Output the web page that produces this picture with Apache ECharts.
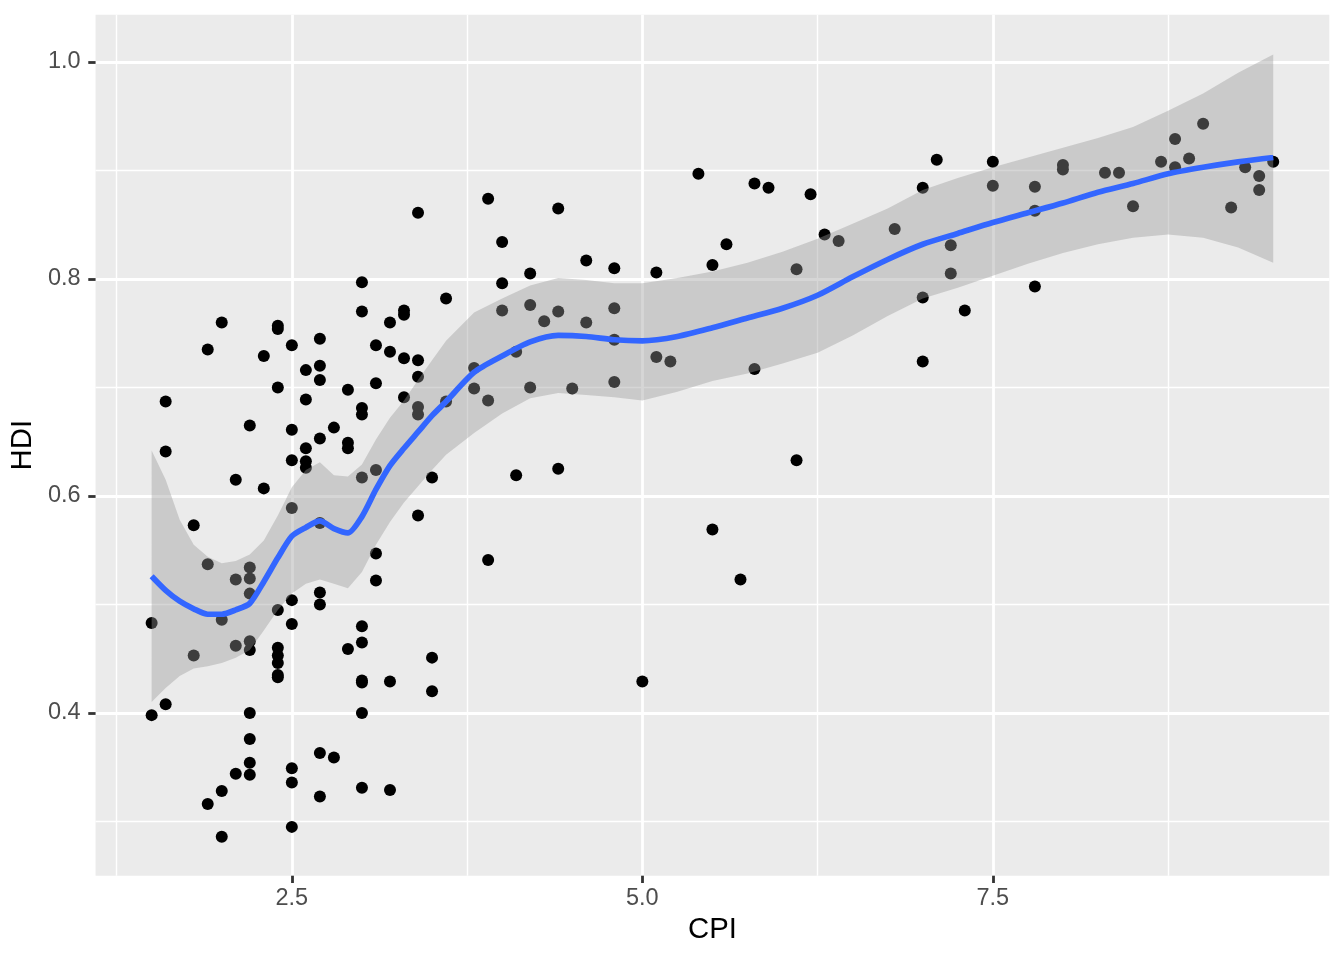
<!DOCTYPE html>
<html>
<head>
<meta charset="utf-8">
<script src="https://cdn.jsdelivr.net/npm/echarts@6/dist/echarts.min.js"></script>
<style>html,body{margin:0;padding:0;background:#fff}#c{width:1344px;height:960px}</style>
</head>
<body>
<div id="c"></div>
<script>
// ---- data: CPI levels and the HDI values of the countries at each level ----
const cpiLevels = [1.5,1.6,1.8,1.9,2.0,2.1,2.2,2.3,2.4,2.5,2.6,2.7,2.8,2.9,3.0,3.1,3.2,3.3,3.4,3.5,3.6,3.8,3.9,4.0,4.1,4.2,4.3,4.4,4.5,4.6,4.8,5.0,5.1,5.2,5.4,5.5,5.6,5.7,5.8,5.9,6.1,6.2,6.3,6.4,6.8,7.0,7.1,7.2,7.3,7.5,7.8,8.0,8.3,8.4,8.5,8.7,8.8,8.9,9.0,9.2,9.3,9.4,9.5];
const hdiByLevel = [
  [0.483,0.398],
  [0.687,0.641,0.408],
  [0.573,0.453],
  [0.735,0.537,0.316],
  [0.760,0.486,0.328,0.286],
  [0.615,0.523,0.462,0.344],
  [0.665,0.534,0.524,0.510,0.466,0.458,0.400,0.376,0.354,0.343],
  [0.729,0.607],
  [0.757,0.754,0.700,0.495,0.460,0.453,0.446,0.435,0.433],
  [0.739,0.661,0.633,0.589,0.504,0.482,0.349,0.336,0.295],
  [0.716,0.689,0.644,0.632,0.626],
  [0.745,0.720,0.707,0.653,0.575,0.511,0.500,0.363,0.323],
  [0.663,0.359],
  [0.698,0.649,0.644,0.459],
  [0.797,0.770,0.681,0.675,0.617,0.480,0.465,0.430,0.428,0.400,0.331],
  [0.739,0.704,0.624,0.547,0.522],
  [0.760,0.733,0.429,0.329],
  [0.771,0.767,0.727,0.691],
  [0.861,0.725,0.710,0.682,0.675,0.582],
  [0.617,0.451,0.420],
  [0.782,0.687],
  [0.718,0.699],
  [0.874,0.688,0.541],
  [0.834,0.796,0.771],
  [0.733,0.619],
  [0.805,0.776,0.700],
  [0.761],
  [0.865,0.770,0.625],
  [0.699],
  [0.817,0.760],
  [0.810,0.773,0.744,0.705],
  [0.429],
  [0.806,0.728],
  [0.724],
  [0.897],
  [0.813,0.569],
  [0.832],
  [0.523],
  [0.888,0.717],
  [0.884],
  [0.809,0.633],
  [0.878],
  [0.841],
  [0.835],
  [0.846],
  [0.884,0.783,0.724],
  [0.910],
  [0.831,0.805],
  [0.771],
  [0.908,0.886],
  [0.885,0.863,0.793],
  [0.905,0.901],
  [0.898],
  [0.898],
  [0.867],
  [0.908],
  [0.929,0.903],
  [0.911],
  [0.943],
  [0.866],
  [0.903],
  [0.895,0.882],
  [0.908]
];

// ---- loess smooth and its confidence band ----
const smoothX   = [1.5,1.6,1.7,1.8,1.9,2.0,2.1,2.2,2.3,2.4,2.5,2.6,2.7,2.8,2.9,3.0,3.1,3.2,3.3,3.4,3.5,3.6,3.8,4.0,4.2,4.4,4.6,4.8,5.0,5.25,5.5,5.75,6.0,6.25,6.5,6.75,7.0,7.25,7.5,7.75,8.0,8.25,8.5,8.75,9.0,9.25,9.5];
const smoothFit = [0.526,0.513,0.503,0.496,0.491,0.491,0.495,0.501,0.521,0.543,0.563,0.571,0.577,0.570,0.566,0.581,0.606,0.628,0.644,0.659,0.674,0.687,0.714,0.729,0.742,0.748,0.747,0.744,0.743,0.747,0.755,0.764,0.773,0.785,0.802,0.818,0.832,0.842,0.852,0.861,0.870,0.880,0.888,0.897,0.903,0.908,0.912];
const bandHigh  = [0.642,0.615,0.578,0.555,0.544,0.538,0.540,0.546,0.559,0.582,0.608,0.624,0.631,0.619,0.618,0.629,0.652,0.672,0.688,0.707,0.725,0.743,0.769,0.782,0.794,0.801,0.799,0.796,0.796,0.801,0.807,0.815,0.825,0.837,0.851,0.865,0.882,0.893,0.903,0.912,0.921,0.930,0.940,0.955,0.971,0.990,1.007];
const bandLow   = [0.410,0.423,0.434,0.441,0.443,0.446,0.451,0.458,0.476,0.495,0.510,0.519,0.523,0.519,0.515,0.530,0.555,0.576,0.594,0.609,0.624,0.638,0.658,0.676,0.690,0.695,0.693,0.691,0.688,0.696,0.706,0.713,0.722,0.732,0.748,0.766,0.782,0.792,0.803,0.814,0.824,0.832,0.838,0.841,0.838,0.829,0.815];

// ---- axis breaks ----
const xMajor = [2.5, 5.0, 7.5];
const xMinor = [1.25, 3.75, 6.25, 8.75];
const yMajor = [0.4, 0.6, 0.8, 1.0];
const yMinor = [0.3, 0.5, 0.7, 0.9];
const xRange = [1.1, 9.9];
const yRange = [0.25, 1.0436];

const points = [];
cpiLevels.forEach((c, i) => hdiByLevel[i].forEach(h => points.push([c, h])));

const FONT = 'Liberation Sans, Arial, Helvetica, sans-serif';
const chart = echarts.init(document.getElementById('c'), null, {renderer: 'canvas'});

const tickStyle = {show: true, length: 7.3, lineStyle: {color: '#333333', width: 2.8}};

chart.setOption({
  animation: false,
  textStyle: {fontFamily: FONT},
  grid: {left: 95, right: 14.7, top: 14.7, bottom: 84.3, show: true, backgroundColor: '#EBEBEB', borderWidth: 0},
  xAxis: [
    {
      type: 'value', min: xRange[0], max: xRange[1],
      name: 'CPI', nameLocation: 'middle', nameGap: 39,
      nameTextStyle: {fontSize: 29.3, color: '#000000', fontFamily: FONT},
      axisLine: {show: false},
      axisTick: Object.assign({customValues: xMajor}, tickStyle),
      axisLabel: {customValues: xMajor, fontSize: 23.5, color: '#4D4D4D', margin: 11, fontFamily: FONT,
                  formatter: v => Number(v).toFixed(1)},
      splitLine: {show: true, lineStyle: {color: '#FFFFFF', width: 2.8}},
      z: 1
    },
    {
      type: 'value', min: xRange[0], max: xRange[1], position: 'top',
      axisLine: {show: false}, axisLabel: {show: false},
      axisTick: {show: false, customValues: xMinor},
      splitLine: {show: true, lineStyle: {color: '#FFFFFF', width: 1.4}},
      z: 0
    }
  ],
  yAxis: [
    {
      type: 'value', min: yRange[0], max: yRange[1],
      name: 'HDI', nameLocation: 'middle', nameGap: 55,
      nameTextStyle: {fontSize: 29.3, color: '#000000', fontFamily: FONT},
      axisLine: {show: false},
      axisTick: Object.assign({customValues: yMajor}, tickStyle),
      axisLabel: {customValues: yMajor, fontSize: 23.5, color: '#4D4D4D', margin: 15, fontFamily: FONT,
                  formatter: v => Number(v).toFixed(1)},
      splitLine: {show: true, lineStyle: {color: '#FFFFFF', width: 2.8}},
      z: 1
    },
    {
      type: 'value', min: yRange[0], max: yRange[1], position: 'right',
      axisLine: {show: false}, axisLabel: {show: false},
      axisTick: {show: false, customValues: yMinor},
      splitLine: {show: true, lineStyle: {color: '#FFFFFF', width: 1.4}},
      z: 0
    }
  ],
  series: [
    {
      type: 'scatter', xAxisIndex: 0, yAxisIndex: 0, z: 2,
      symbol: 'circle', symbolSize: 12,
      itemStyle: {color: '#000000', opacity: 1},
      data: points, silent: true
    },
    {
      type: 'custom', xAxisIndex: 0, yAxisIndex: 0, z: 3, silent: true,
      data: smoothX.map((x, i) => [x, bandLow[i], bandHigh[i]]),
      encode: {x: 0, y: [1, 2]},
      renderItem: function (params, api) {
        if (params.dataIndex !== 0) return;
        const pts = [];
        for (let i = 0; i < smoothX.length; i++) pts.push(api.coord([smoothX[i], bandHigh[i]]));
        for (let i = smoothX.length - 1; i >= 0; i--) pts.push(api.coord([smoothX[i], bandLow[i]]));
        return {type: 'polygon', shape: {points: pts}, style: {fill: 'rgba(153,153,153,0.4)'}};
      }
    },
    {
      type: 'line', xAxisIndex: 0, yAxisIndex: 0, z: 4, silent: true,
      data: smoothX.map((x, i) => [x, smoothFit[i]]),
      showSymbol: false, symbol: 'none', smooth: 0.25,
      lineStyle: {color: '#3366FF', width: 5.7}
    }
  ]
});
</script>
</body>
</html>
